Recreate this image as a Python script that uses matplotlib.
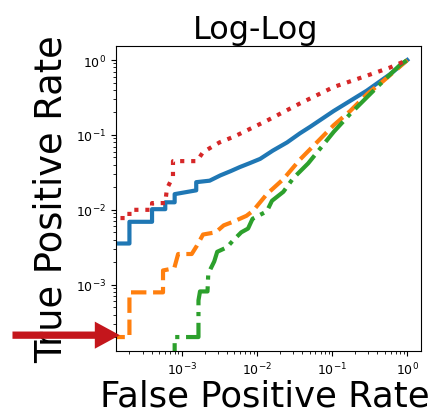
import matplotlib.pyplot as plt

# ROC operating points (fpr, tpr) for the four models
blue_fpr = [0, 2e-4, 2e-4, 4e-4, 4e-4, 6e-4, 6e-4, 8e-4, 8e-4, 1.55e-3, 1.55e-3, 2.34e-3,
            3.24e-3, 4.5e-3, 5.89e-3, 8.0e-3, 1.10e-2, 1.62e-2, 2.51e-2, 3.72e-2, 5.13e-2, 0.105,
            0.288, 0.589, 1.0]
blue_tpr = [3.55e-3, 3.55e-3, 6.92e-3, 6.92e-3, 1.02e-2, 1.02e-2, 1.26e-2, 1.26e-2, 1.62e-2,
            1.82e-2, 2.34e-2, 2.45e-2, 2.88e-2, 3.3e-2, 3.72e-2, 4.2e-2, 4.79e-2, 6.17e-2, 7.94e-2,
            0.105, 0.129, 0.209, 0.389, 0.646, 1.0]

orange_fpr = [0, 2e-4, 2e-4, 5.6e-4, 5.6e-4, 7.9e-4, 8.9e-4, 1.35e-3, 1.58e-3, 1.91e-3, 2.82e-3,
              3.6e-3, 4.79e-3, 7.24e-3, 8.91e-3, 1.35e-2, 2.24e-2, 3.72e-2, 0.105, 0.174, 0.288,
              0.479, 0.813, 1.0]
orange_tpr = [2e-4, 2e-4, 7.9e-4, 7.9e-4, 1.55e-3, 1.66e-3, 2.57e-3, 2.57e-3, 3.31e-3, 4.68e-3,
              5.01e-3, 6.2e-3, 6.92e-3, 8.32e-3, 9.77e-3, 1.62e-2, 2.57e-2, 4.68e-2, 0.135, 0.209,
              0.347, 0.525, 0.832, 1.0]

green_fpr = [8e-4, 8e-4, 1.66e-3, 1.66e-3, 1.74e-3, 2.19e-3, 2.24e-3, 2.40e-3, 2.69e-3, 2.95e-3,
             3.98e-3, 4.79e-3, 6.17e-3, 7.59e-3, 8.71e-3, 1.35e-2, 1.58e-2, 2.24e-2, 3.02e-2,
             4.79e-2, 0.105, 0.174, 0.288, 0.479, 0.813, 1.0]
green_tpr = [0, 2e-4, 2e-4, 6.17e-4, 8.13e-4, 8.13e-4, 1.38e-3, 1.62e-3, 2.04e-3, 2.75e-3,
             3.16e-3, 3.89e-3, 5.01e-3, 5.62e-3, 7.59e-3, 9.55e-3, 1.32e-2, 1.74e-2, 2.63e-2,
             4.17e-2, 0.110, 0.191, 0.316, 0.525, 0.871, 1.0]

red_fpr = [0, 2e-4, 2e-4, 4e-4, 4e-4, 6e-4, 6.3e-4, 7.6e-4, 7.6e-4, 1.58e-3, 1.91e-3, 3.16e-3,
           5.01e-3, 1.35e-2, 3.72e-2, 0.105, 0.288, 0.589, 1.0]
red_tpr = [7.76e-3, 7.76e-3, 1.0e-2, 1.0e-2, 1.23e-2, 1.23e-2, 1.9e-2, 2.8e-2, 4.47e-2, 4.47e-2,
           5.89e-2, 7.94e-2, 9.55e-2, 0.155, 0.263, 0.437, 0.617, 0.794, 1.0]

fig = plt.figure(figsize=(4.41, 4.14), dpi=100)
ax = fig.add_axes([0.262, 0.150, 0.693, 0.736])

ax.loglog(blue_fpr, blue_tpr, color="C0", lw=3, ls="-")
ax.loglog(orange_fpr, orange_tpr, color="C1", lw=3, ls="--")
ax.loglog(green_fpr, green_tpr, color="C2", lw=3, ls="-.")
ax.loglog(red_fpr, red_tpr, color="C3", lw=3, ls=":")

ax.set_title("Log-Log", fontsize=23, x=0.46)
ax.set_xlabel("False Positive Rate", fontsize=25.5, x=0.49, labelpad=1)
ax.set_ylabel("True Positive Rate", fontsize=26.5)
ax.tick_params(labelsize=9)

# arrow pointing at the lowest operating point
ax.annotate("", xy=(0.278, 0.188), xytext=(0.022, 0.188),
            xycoords="figure fraction", textcoords="figure fraction",
            arrowprops=dict(arrowstyle="simple,head_length=1.2,head_width=1.3,tail_width=0.35",
                            mutation_scale=15, color="#c4161c", lw=0))

fig.savefig("out.png")
